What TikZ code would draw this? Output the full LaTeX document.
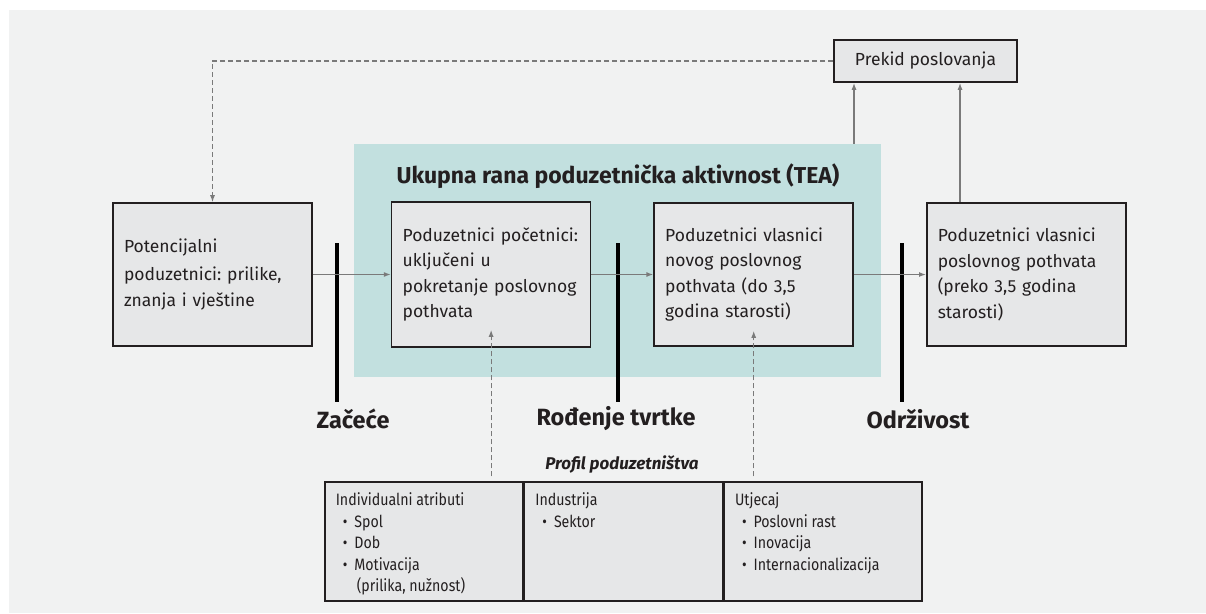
\documentclass[tikz,border=0pt]{standalone}
\usepackage{fontspec}
\setmainfont{Fira Sans}
\newfontfamily\condfont[FakeStretch=0.86]{Fira Sans}
\usetikzlibrary{positioning, arrows.meta}
\definecolor{bggray}{HTML}{F1F2F2}
\definecolor{teafill}{HTML}{C2E0DF}
\definecolor{boxfill}{HTML}{E6E7E8}
\definecolor{ink}{HTML}{231F20}
\definecolor{linegray}{HTML}{7A7A7A}
\frenchspacing
\tikzset{
    >={Latex[length=7pt,width=5pt]}, % small filled heads
    stage/.style={draw=ink, line width=1.6pt, fill=boxfill, text=ink, minimum width=199pt, minimum height=143pt, text width=177pt, align=left, inner sep=0pt, font=\fontsize{17.5}{25.5}\selectfont},
    endbox/.style={draw=ink, line width=1.6pt, fill=boxfill, text=ink, minimum width=183pt, minimum height=42pt, inner sep=0pt, font=\fontsize{17.5}{20}\selectfont},
    cell/.style={draw=ink, line width=1.6pt, fill=boxfill, text=ink, anchor=north west, inner xsep=11pt, inner ysep=8pt, font=\condfont\fontsize{16.5}{21.5}\selectfont},
    phase/.style={text=ink, font=\bfseries\fontsize{23.5}{26}\selectfont},
    phasebar/.style={line width=3.6pt, black},
    flow/.style={->, linegray, line width=1.3pt},
    feedback/.style={->, linegray, line width=1.2pt, dash pattern=on 5pt off 3pt},
}
\newcommand{\bul}[1]{\\\hspace*{7pt}\textbullet\hspace{7pt}#1}
\newcommand{\cellbody}[1]{\parbox[c][103pt][t]{176pt}{\vspace*{3pt}#1}}

\begin{document}
\begin{tikzpicture}[x=1pt, y=-1pt, node distance=0pt]
    \useasboundingbox (0,0) rectangle (1206,613);
    \fill[bggray] (9,10) rectangle (1206,613);

    % TEA region
    \node[fill=teafill, minimum width=527pt, minimum height=233pt, inner sep=0pt] (tea) at (617.5,260.5) {};
    \node[text=ink, font=\bfseries\fontsize{23}{26}\selectfont] (teatitle) at (618,176) {Ukupna rana poduzetnička aktivnost (TEA)};

    % stages
    \node[stage] (b1) at (212.5,274.5) {\vspace*{3pt}Potencijalni\\poduzetnici: prilike,\\znanja i vještine};
    \node[stage, minimum height=145pt] (b2) [right=78pt of b1] {Poduzetnici početnici:\\uključeni u\\pokretanje poslovnog\\pothvata};
    \node[stage] (b3) [right=62pt of b2] {Poduzetnici vlasnici\\novog poslovnog\\pothvata (do 3,5\\godina starosti)};
    \node[stage] (b4) [right=72pt of b3] {Poduzetnici vlasnici\\poslovnog pothvata\\(preko 3,5 godina\\starosti)};
    \node[endbox] (prekid) at (925.5,61) {Prekid poslovanja};

    % phases
    \draw[phasebar] (337,243) -- (337,402);
    \draw[phasebar] (618,243) -- (618,402);
    \draw[phasebar] (902,243) -- (902,402);
    \node[phase] (zacece) at (353,419) {Začeće};
    \node[phase] (rodenje) at (616,419) {Rođenje tvrtke};
    \node[phase] (odrzivost) at (918,419) {Održivost};

    % profile table
    \node[text=ink, font=\bfseries\itshape\fontsize{17}{20}\selectfont] (prof) at (622,464) {Profil poduzetništva};
    \node[cell] (c1) at (324,481) {\cellbody{Individualni atributi\bul{Spol}\bul{Dob}\bul{Motivacija}\\\hspace*{21pt}(prilika, nužnost)}};
    \node[cell, anchor=north west] (c2) at (c1.north east) {\cellbody{Industrija\bul{Sektor}}};
    \node[cell, anchor=north west] (c3) at (c2.north east) {\cellbody{Utjecaj\bul{Poslovni rast}\bul{Inovacija}\bul{Internacionalizacija}}};

    % connectors
    \draw[flow] (b1) -- (b2);
    \draw[flow] (b2) -- (b3);
    \draw[flow] (b3) -- (b4);
    \draw[flow] (b3.east |- tea.north) -- (b3.east |- prekid.south);
    \draw[flow] ([xshift=34pt]b4.north west) -- ([xshift=34pt]b4.north west |- prekid.south);
    \draw[feedback] (prekid.west) -| (b1.north);
    \draw[feedback] (b2.south |- prof.south) -- ([yshift=18pt]b2.south);
    \draw[feedback] (b3.south |- prof.south) -- ([yshift=16pt]b3.south);
\end{tikzpicture}
\end{document}
